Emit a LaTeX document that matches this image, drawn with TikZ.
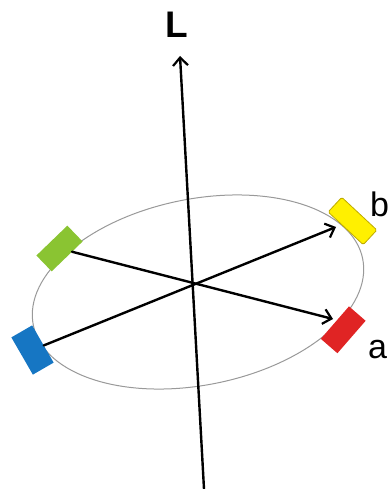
\documentclass[tikz,border=0pt]{standalone}
\usepackage{fontspec}
\setmainfont{Liberation Sans}
\usetikzlibrary{arrows.meta}
\begin{document}
\begin{tikzpicture}[x=1pt,y=-1pt,
  vec/.style={line width=2.4pt, line cap=round, -{Straight Barb[length=8pt,width=15pt,line width=2.2pt]}},
  chip/.style={inner sep=0pt, outer sep=0pt, draw=none},
  lbl/.style={inner sep=0pt, anchor=base west, font=\fontsize{34}{34}\selectfont}]
\useasboundingbox (0,0) rectangle (391,489);
% orbit ellipse
\draw[line width=1pt, draw=black!40, rotate around={11.4:(198,292)}] (198,292) ellipse [x radius=168, y radius=93];
% axis
\coordinate (axbot) at (204,489);
\coordinate (axtop) at (180,56);
\draw[vec] (axbot) -- (axtop);
\node[inner sep=0pt, anchor=base west, font=\fontsize{37}{37}\selectfont\bfseries] (L) at (165,38) {L};
% chips
\node[chip, fill={rgb,255:red,255;green,240;blue,0}, draw={rgb,255:red,190;green,170;blue,0}, line width=0.8pt, rounded corners=1.5pt, minimum width=48pt, minimum height=20pt, rotate=-43] (yellow) at (352.5,221) {};
\node[chip, fill={rgb,255:red,224;green,36;blue,36}, minimum width=43pt, minimum height=22pt, rotate=49] (red) at (343.2,329.8) {};
\node[chip, fill={rgb,255:red,138;green,196;blue,50}, minimum width=43pt, minimum height=22pt, rotate=44] (green) at (59.5,248.5) {};
\node[chip, fill={rgb,255:red,22;green,118;blue,195}, minimum width=43pt, minimum height=24pt, rotate=-60] (blue) at (32.5,350) {};
% vectors
\coordinate (tipb) at (336,227);
\coordinate (tipa) at (333,319);
\draw[vec] (blue) -- (tipb);
\draw[vec] (green) -- (tipa);
% labels
\node[lbl] (la) at (368,358) {a};
\node[lbl] (lb) at (370,216) {b};
\end{tikzpicture}
\end{document}
